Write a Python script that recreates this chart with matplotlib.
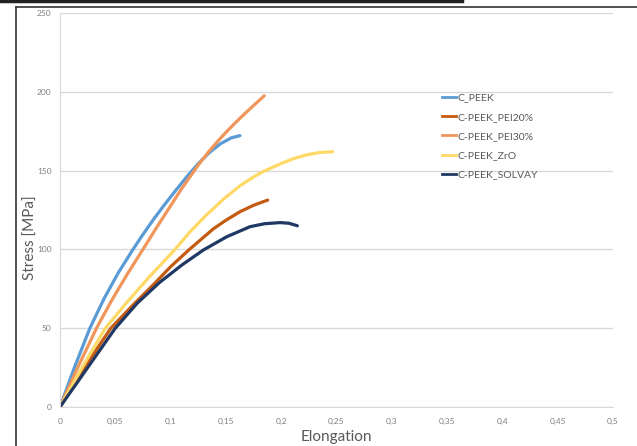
import numpy as np
import matplotlib
matplotlib.use('Agg')
import matplotlib.pyplot as plt
from matplotlib.ticker import FuncFormatter
from matplotlib.lines import Line2D

plt.rcParams['font.family'] = ['Lato', 'DejaVu Sans']

# curve data (elongation, stress MPa)
peek_x = [0, 0.013, 0.027, 0.04, 0.053, 0.066, 0.075, 0.085, 0.095, 0.105,
          0.116, 0.125, 0.135, 0.145, 0.155, 0.1627]
peek_y = [0, 25, 50, 69, 85.5, 100, 109.5, 119.5, 128.8, 137.8,
          147.2, 154.4, 161.4, 167, 170.8, 172.2]

pei20_x = [0, 0.022, 0.046, 0.065, 0.085, 0.1, 0.117, 0.1386, 0.15, 0.163, 0.175, 0.1878]
pei20_y = [0, 25, 50, 64, 78, 89, 100, 113, 118.5, 124, 128, 131.3]

pei30_x = [0, 0.016, 0.033, 0.047, 0.061, 0.075, 0.087, 0.098, 0.109, 0.1205,
           0.125, 0.135, 0.145, 0.1545, 0.1627, 0.173, 0.1847]
pei30_y = [0, 25, 50, 68, 84.5, 100, 113.5, 125.5, 137.5, 149,
           153.5, 162.5, 170.5, 177.5, 183.2, 190, 197.5]

zro_x = [0, 0.02, 0.041, 0.06, 0.08, 0.104, 0.118, 0.1326, 0.148, 0.163,
         0.175, 0.184, 0.2, 0.212, 0.223, 0.235, 0.2466]
zro_y = [0, 25, 50, 66, 82, 100, 111.5, 122, 132, 140.5,
         146, 149.5, 154.5, 157.8, 160, 161.5, 162]

solvay_x = [0, 0.025, 0.05, 0.07, 0.09, 0.11, 0.1296, 0.1507, 0.1718, 0.185,
            0.199, 0.207, 0.2146]
solvay_y = [0, 25, 50, 66, 79, 90, 99.6, 108, 114.4, 116.3,
            117, 116.6, 115]

names = ['C_PEEK', 'C-PEEK_PEI20%', 'C-PEEK_PEI30%', 'C-PEEK_ZrO', 'C-PEEK_SOLVAY']
colors = ['#5B9BD5', '#C55A11', '#F0965A', '#FFD966', '#203864']
series = [(peek_x, peek_y), (pei20_x, pei20_y), (pei30_x, pei30_y),
          (zro_x, zro_y), (solvay_x, solvay_y)]

fig = plt.figure(figsize=(6.37, 4.46), dpi=100)
ax = fig.add_axes([60/637, 39/446, 553/637, 394/446])

for (xs, ys), c, n in zip(series, colors, names):
    ax.plot(xs, ys, color=c, lw=2.3, label=n, solid_capstyle='round',
            solid_joinstyle='round')

ax.set_xlim(0, 0.5)
ax.set_ylim(0, 250)
ax.set_xticks(np.arange(0, 0.501, 0.05))
ax.set_yticks(np.arange(0, 251, 50))

def comma(v, pos):
    s = ('%.2f' % v).rstrip('0').rstrip('.')
    return s.replace('.', ',')

ax.xaxis.set_major_formatter(FuncFormatter(comma))
ax.tick_params(length=0, labelsize=6, labelcolor='#7F7F7F')
ax.tick_params(axis='x', pad=8)
ax.tick_params(axis='y', pad=6)
ax.grid(axis='y', color='#D9D9D9', lw=1)
ax.set_axisbelow(True)
for s in ['top', 'right']:
    ax.spines[s].set_visible(False)
for s in ['left', 'bottom']:
    ax.spines[s].set_color('#D9D9D9')

ax.set_xlabel('Elongation', fontsize=11, color='#595959')
ax.set_ylabel('Stress [MPa]', fontsize=11, color='#595959')
ax.xaxis.set_label_coords(0.5, -0.058)
ax.yaxis.set_label_coords(-0.040, 0.43)

handles = [Line2D([], [], color=c, lw=2) for c in colors]
ax.legend(handles, names, loc='upper left', bbox_to_anchor=(0.673, 0.82),
          frameon=False, fontsize=7.5, labelcolor='#595959',
          handlelength=1.4, handletextpad=0.1, labelspacing=0.95)

# screenshot border lines
fig.add_artist(Line2D([16/637, 1], [1 - 7/446, 1 - 7/446], color='#333333', lw=1.2))
fig.add_artist(Line2D([16/637, 16/637], [0, 1 - 7/446], color='#333333', lw=1.2))
fig.add_artist(Line2D([0, 462/637], [1 - 1/446, 1 - 1/446], color='#222222', lw=2.5))

fig.savefig('out.png', dpi=100)
